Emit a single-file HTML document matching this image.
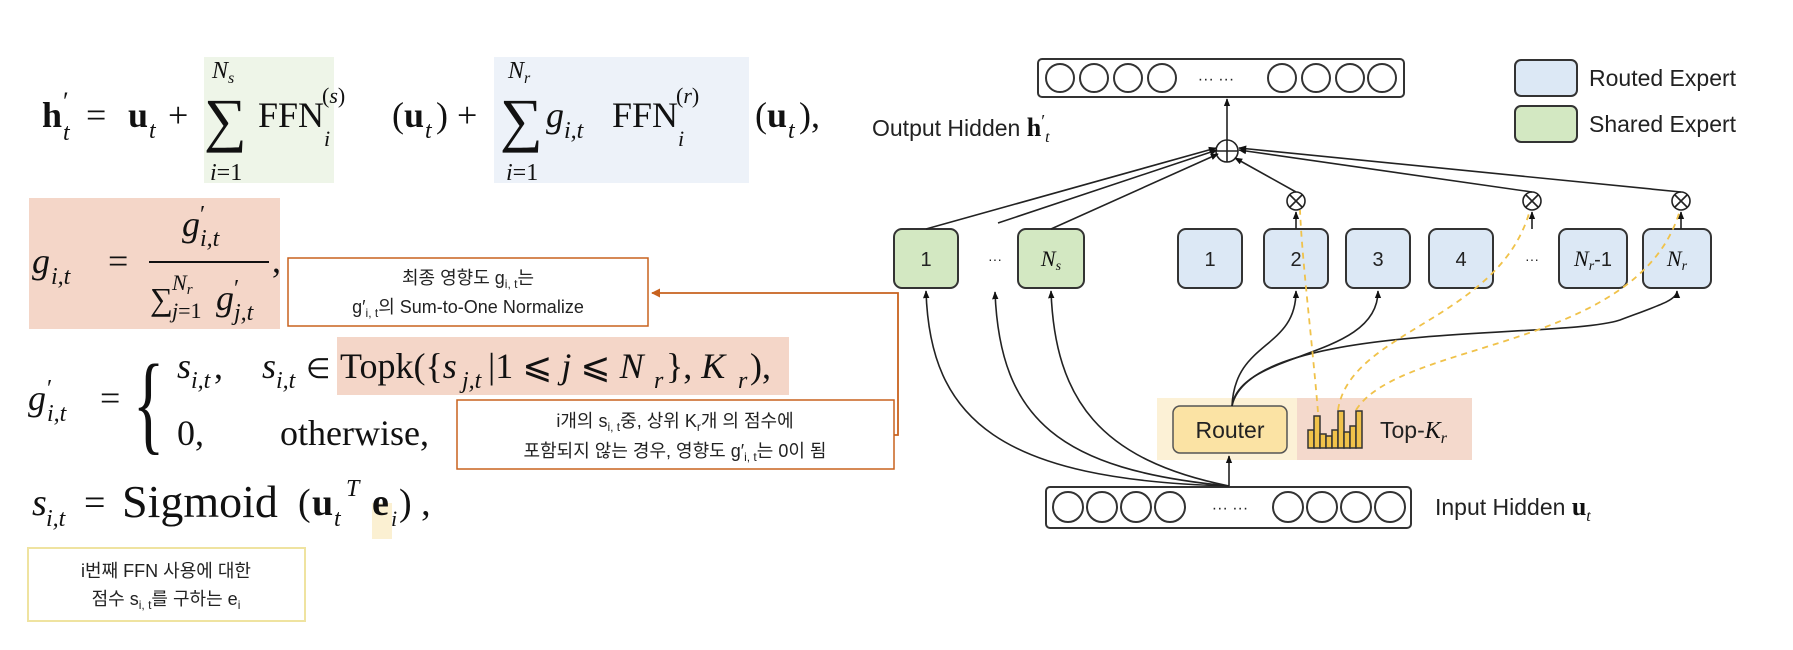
<!DOCTYPE html>
<html><head><meta charset="utf-8"><style>
html,body{margin:0;padding:0;background:#fff;}
svg{display:block}
.m{font-family:"Liberation Serif",serif;fill:#111}
.i{font-style:italic}
.b{font-weight:bold}
.s{font-family:"Liberation Sans","Noto Sans CJK KR",sans-serif;fill:#222}
.k{font-family:"Liberation Sans","Noto Sans CJK KR",sans-serif;fill:#222;font-size:18px}
</style></head><body>
<svg width="1793" height="650" viewBox="0 0 1793 650" xmlns="http://www.w3.org/2000/svg">
<defs>
<marker id="a" viewBox="0 0 10 10" refX="9" refY="5" markerWidth="5" markerHeight="5" orient="auto"><path d="M0,1 L10,5 L0,9z" fill="#111"/></marker>
<marker id="o" viewBox="0 0 10 10" refX="9" refY="5" markerWidth="5" markerHeight="5" orient="auto"><path d="M0,0 L10,5 L0,10z" fill="#c8621e"/></marker>
</defs>

<rect x="204" y="57" width="130" height="126" fill="#eef5e8"/>
<rect x="494" y="57" width="255" height="126" fill="#edf2f9"/>
<rect x="29" y="198" width="251" height="131" fill="#f4d6c8"/>
<rect x="337" y="337" width="452" height="58" fill="#f4d6c8"/>
<rect x="372" y="503" width="20" height="36" fill="#fbf0d2"/>

<g class="m" font-size="36">
<text x="42" y="127" class="b">h</text>
<text x="63" y="110" font-size="26">′</text>
<text x="63" y="140" font-size="24" class="i">t</text>
<text x="86" y="127">=</text>
<text x="128" y="127" class="b">u</text>
<text x="149" y="138" font-size="24" class="i">t</text>
<text x="168" y="127">+</text>
<text x="204" y="140" font-size="60">∑</text>
<text x="212" y="78" font-size="24" class="i">N<tspan font-size="16" dy="5">s</tspan></text>
<text x="210" y="180" font-size="24"><tspan class="i">i</tspan>=1</text>
<text x="258" y="127">FFN</text>
<text x="322" y="103" font-size="22">(<tspan class="i">s</tspan>)</text>
<text x="324" y="146" font-size="22" class="i">i</text>
<text x="392" y="127">(<tspan class="b">u</tspan></text>
<text x="425" y="138" font-size="24" class="i">t</text>
<text x="436" y="127">) +</text>
<text x="500" y="140" font-size="60">∑</text>
<text x="508" y="78" font-size="24" class="i">N<tspan font-size="16" dy="5">r</tspan></text>
<text x="506" y="180" font-size="24"><tspan class="i">i</tspan>=1</text>
<text x="546" y="127" class="i">g</text>
<text x="564" y="138" font-size="24" class="i">i,t</text>
<text x="612" y="127">FFN</text>
<text x="676" y="103" font-size="22">(<tspan class="i">r</tspan>)</text>
<text x="678" y="146" font-size="22" class="i">i</text>
<text x="755" y="127">(<tspan class="b">u</tspan></text>
<text x="788" y="138" font-size="24" class="i">t</text>
<text x="799" y="127">),</text>
</g>

<g class="m" font-size="36">
<text x="32" y="273" class="i">g</text>
<text x="51" y="284" font-size="24" class="i">i,t</text>
<text x="108" y="273">=</text>
<text x="182" y="236" class="i">g</text>
<text x="200" y="222" font-size="24">′</text>
<text x="200" y="246" font-size="24" class="i">i,t</text>
<line x1="149" y1="262" x2="269" y2="262" stroke="#111" stroke-width="2"/>
<text x="150" y="310" font-size="32">∑</text>
<text x="172" y="290" font-size="22" class="i">N<tspan font-size="15" dy="4">r</tspan></text>
<text x="172" y="318" font-size="22"><tspan class="i">j</tspan>=1</text>
<text x="216" y="310" class="i">g</text>
<text x="234" y="296" font-size="24">′</text>
<text x="234" y="320" font-size="24" class="i">j,t</text>
<text x="272" y="272">,</text>
</g>

<g class="m" font-size="36">
<text x="28" y="410" class="i">g</text>
<text x="47" y="396" font-size="24">′</text>
<text x="47" y="421" font-size="24" class="i">i,t</text>
<text x="100" y="410">=</text>
<text x="130" y="440" font-size="110" transform="scale(0.6,1)" style="transform-origin:137px 400px">{</text>
<text x="177" y="378" class="i">s</text><text x="191" y="388" font-size="24" class="i">i,t</text><text x="214" y="378">,</text>
<text x="262" y="378" class="i">s</text><text x="276" y="388" font-size="24" class="i">i,t</text>
<text x="306" y="378" font-size="28">∈</text>
<text x="340" y="378">Topk({<tspan class="i">s</tspan></text>
<text x="462" y="388" font-size="24" class="i">j,t</text>
<text x="488" y="378">|1 ⩽ <tspan class="i">j</tspan> ⩽ <tspan class="i">N</tspan></text>
<text x="654" y="388" font-size="24" class="i">r</text>
<text x="666" y="378">}, <tspan class="i">K</tspan></text>
<text x="738" y="388" font-size="24" class="i">r</text>
<text x="750" y="378">),</text>
<text x="177" y="445">0,</text>
<text x="280" y="445">otherwise,</text>
</g>

<g class="m" font-size="38">
<text x="32" y="515" class="i">s</text><text x="46" y="526" font-size="24" class="i">i,t</text>
<text x="84" y="515">=</text>
<text x="122" y="517" font-size="46">Sigmoid</text>
<text x="298" y="515">(</text>
<text x="312" y="515" class="b">u</text>
<text x="334" y="526" font-size="24" class="i">t</text>
<text x="346" y="496" font-size="24" class="i">T</text>
<text x="372" y="515" class="b">e</text>
<text x="391" y="526" font-size="22" class="i">i</text>
<text x="399" y="515">) ,</text>
</g>

<rect x="288" y="258" width="360" height="68" fill="#fff" stroke="#c8621e" stroke-width="1.5"/>
<text class="k" x="468" y="284" text-anchor="middle">최종 영향도 g<tspan font-size="12" dy="4">i, t</tspan><tspan dy="-4">는</tspan></text>
<text class="k" x="468" y="313" text-anchor="middle">g′<tspan font-size="12" dy="4">i, t</tspan><tspan dy="-4">의 Sum-to-One Normalize</tspan></text>
<rect x="457" y="400" width="437" height="69" fill="#fff" stroke="#c8621e" stroke-width="1.5"/>
<text class="k" x="675" y="427" text-anchor="middle">i개의 s<tspan font-size="12" dy="4">i, t</tspan><tspan dy="-4">중, 상위 K</tspan><tspan font-size="12" dy="4">r</tspan><tspan dy="-4">개 의 점수에</tspan></text>
<text class="k" x="675" y="457" text-anchor="middle">포함되지 않는 경우, 영향도 g′<tspan font-size="12" dy="4">i, t</tspan><tspan dy="-4">는 0이 됨</tspan></text>
<path d="M894,435 H898 V293 H652" fill="none" stroke="#c8621e" stroke-width="1.8" marker-end="url(#o)"/>
<rect x="28" y="548" width="277" height="73" fill="#fff" stroke="#efe3a0" stroke-width="2"/>
<text class="k" x="166" y="577" text-anchor="middle">i번째 FFN 사용에 대한</text>
<text class="k" x="166" y="605" text-anchor="middle">점수 s<tspan font-size="12" dy="4">i, t</tspan><tspan dy="-4">를 구하는 e</tspan><tspan font-size="12" dy="4">i</tspan></text>

<g stroke="#333" stroke-width="2" fill="none">
<rect x="1038" y="59" width="366" height="38" rx="4"/>
<circle cx="1060" cy="78" r="14"/><circle cx="1094" cy="78" r="14"/><circle cx="1128" cy="78" r="14"/><circle cx="1162" cy="78" r="14"/>
<circle cx="1282" cy="78" r="14"/><circle cx="1316" cy="78" r="14"/><circle cx="1350" cy="78" r="14"/><circle cx="1382" cy="78" r="14"/>
<rect x="1046" y="487" width="365" height="41" rx="4"/>
<circle cx="1068" cy="507" r="15"/><circle cx="1102" cy="507" r="15"/><circle cx="1136" cy="507" r="15"/><circle cx="1170" cy="507" r="15"/>
<circle cx="1288" cy="507" r="15"/><circle cx="1322" cy="507" r="15"/><circle cx="1356" cy="507" r="15"/><circle cx="1390" cy="507" r="15"/>
</g>
<text class="s" x="1216" y="84" font-size="16" text-anchor="middle">··· ···</text>
<text class="s" x="1230" y="513" font-size="16" text-anchor="middle">··· ···</text>

<text class="s" x="872" y="136" font-size="23">Output Hidden <tspan class="m b" font-size="26">h</tspan><tspan class="m" font-size="18" dy="-9">′</tspan><tspan class="m i" font-size="16" dy="15">t</tspan></text>
<text class="s" x="1435" y="515" font-size="23">Input Hidden <tspan class="m b" font-size="26">u</tspan><tspan class="m i" font-size="16" dy="6">t</tspan></text>

<rect x="1515" y="60" width="62" height="36" rx="6" fill="#dce8f5" stroke="#333" stroke-width="2"/>
<rect x="1515" y="106" width="62" height="36" rx="6" fill="#d3e8c2" stroke="#333" stroke-width="2"/>
<text class="s" x="1589" y="86" font-size="23">Routed Expert</text>
<text class="s" x="1589" y="132" font-size="23">Shared Expert</text>

<rect x="1157" y="398" width="140" height="62" fill="#fcf1d6"/>
<rect x="1297" y="398" width="175" height="62" fill="#f4d9cc"/>
<rect x="1173" y="406" width="114" height="47" rx="7" fill="#fbe3a4" stroke="#555" stroke-width="1.5"/>
<text class="s" x="1230" y="438" font-size="23" text-anchor="middle" fill="#333">Router</text>
<g fill="#f0c24a" stroke="#333" stroke-width="1.5">
<rect x="1308" y="430" width="6" height="18"/><rect x="1314" y="416" width="6" height="32"/><rect x="1320" y="434" width="6" height="14"/><rect x="1326" y="436" width="6" height="12"/><rect x="1332" y="430" width="6" height="18"/><rect x="1338" y="411" width="6" height="37"/><rect x="1344" y="432" width="6" height="16"/><rect x="1350" y="426" width="6" height="22"/><rect x="1356" y="411" width="6" height="37"/>
</g>
<text class="s" x="1380" y="438" font-size="23" fill="#333">Top-<tspan class="m i" font-size="24">K</tspan><tspan class="m i" font-size="16" dy="5">r</tspan></text>

<g stroke="#333" stroke-width="2">
<rect x="894" y="229" width="64" height="59" rx="8" fill="#d3e8c2"/>
<rect x="1018" y="229" width="66" height="59" rx="8" fill="#d3e8c2"/>
<rect x="1178" y="229" width="64" height="59" rx="8" fill="#dce8f5"/>
<rect x="1264" y="229" width="64" height="59" rx="8" fill="#dce8f5"/>
<rect x="1346" y="229" width="64" height="59" rx="8" fill="#dce8f5"/>
<rect x="1429" y="229" width="64" height="59" rx="8" fill="#dce8f5"/>
<rect x="1559" y="229" width="68" height="59" rx="8" fill="#dce8f5"/>
<rect x="1643" y="229" width="68" height="59" rx="8" fill="#dce8f5"/>
</g>
<g class="s" font-size="20" text-anchor="middle">
<text x="926" y="266">1</text>
<text x="995" y="264" font-size="14">···</text>
<text x="1051" y="266" class="m i" font-size="22">N<tspan font-size="14" dy="4">s</tspan></text>
<text x="1210" y="266">1</text>
<text x="1296" y="266">2</text>
<text x="1378" y="266">3</text>
<text x="1461" y="266">4</text>
<text x="1532" y="264" font-size="14">···</text>
<text x="1593" y="266"><tspan class="m i" font-size="22">N</tspan><tspan class="m i" font-size="14" dy="4">r</tspan><tspan dy="-4">-1</tspan></text>
<text x="1677" y="266" class="m i" font-size="22">N<tspan font-size="14" dy="4">r</tspan></text>
</g>

<g stroke="#222" stroke-width="1.6" fill="#fff">
<circle cx="1227" cy="151" r="11"/><path d="M1216,151 H1238 M1227,140 V162" fill="none"/>
<circle cx="1296" cy="201" r="9"/><path d="M1290,195 L1302,207 M1302,195 L1290,207" fill="none"/>
<circle cx="1532" cy="201" r="9"/><path d="M1526,195 L1538,207 M1538,195 L1526,207" fill="none"/>
<circle cx="1681" cy="201" r="9"/><path d="M1675,195 L1687,207 M1687,195 L1675,207" fill="none"/>
</g>

<g stroke="#222" stroke-width="1.6" fill="none" marker-end="url(#a)">
<path d="M1227,140 V99"/>
<path d="M926,229 L1216,148"/>
<path d="M998,223 L1217,150"/>
<path d="M1051,229 L1218,154"/>
<path d="M1296,192 L1235,158"/>
<path d="M1532,192 L1239,150"/>
<path d="M1681,192 L1239,148"/>
<path d="M1296,229 V212"/>
<path d="M1532,229 V212"/>
<path d="M1681,229 V212"/>
<path d="M1229,486 V456"/>
<path d="M1229,486 C1000,480 930,420 926,291"/>
<path d="M1229,486 C1060,470 1000,420 995,292"/>
<path d="M1229,486 C1100,460 1055,400 1051,291"/>
<path d="M1232,406 C1235,340 1296,350 1296,291"/>
<path d="M1232,406 C1240,350 1378,360 1378,291"/>
<path d="M1232,406 C1250,320 1560,340 1620,320 C1660,305 1677,300 1677,291"/>
</g>
<g stroke="#f0c24a" stroke-width="1.8" fill="none" stroke-dasharray="6,5">
<path d="M1318,412 C1312,340 1302,260 1300,210"/>
<path d="M1338,410 C1350,330 1500,320 1530,210"/>
<path d="M1356,410 C1400,340 1640,350 1680,210"/>
</g>
</svg>
</body></html>
